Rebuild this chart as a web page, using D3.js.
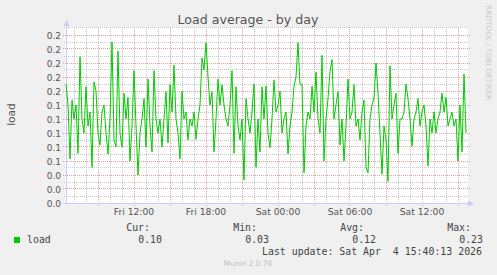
<!DOCTYPE html>
<html>
<head>
<meta charset="utf-8">
<script src="https://cdn.jsdelivr.net/npm/d3@7"></script>
<style>
  body { margin: 0; background: #f0f0f0; }
  svg { display: block; }
</style>
</head>
<body>
<div id="chart"></div>
<script>
// 10-minute samples, Fri 06:20 -> Sat 15:40
const loadValues = [
  0.17, 0.14, 0.063, 0.147, 0.12, 0.14, 0.071, 0.209, 0.12, 0.10,
  0.166, 0.11, 0.13, 0.051, 0.173, 0.16, 0.10, 0.083, 0.13, 0.14,
  0.10, 0.07, 0.12, 0.23, 0.09, 0.08, 0.217, 0.10, 0.08, 0.157,
  0.12, 0.151, 0.06, 0.11, 0.189, 0.11, 0.04, 0.10, 0.12, 0.149,
  0.08, 0.177, 0.11, 0.073, 0.189, 0.12, 0.10, 0.12, 0.08, 0.12,
  0.159, 0.086, 0.169, 0.13, 0.197, 0.12, 0.10, 0.063, 0.16, 0.12,
  0.13, 0.09, 0.12, 0.11, 0.13, 0.091, 0.12, 0.14, 0.207, 0.19,
  0.229, 0.18, 0.14, 0.159, 0.073, 0.12, 0.177, 0.14, 0.169, 0.14,
  0.12, 0.11, 0.14, 0.189, 0.071, 0.166, 0.11, 0.09, 0.12, 0.033,
  0.149, 0.12, 0.10, 0.13, 0.17, 0.051, 0.12, 0.073, 0.166, 0.12,
  0.167, 0.10, 0.079, 0.12, 0.176, 0.13, 0.14, 0.16, 0.10, 0.12,
  0.13, 0.07, 0.11, 0.13, 0.167, 0.18, 0.229, 0.17, 0.169, 0.043,
  0.11, 0.13, 0.12, 0.167, 0.13, 0.187, 0.12, 0.10, 0.211, 0.06,
  0.12, 0.149, 0.187, 0.205, 0.12, 0.14, 0.159, 0.083, 0.12, 0.06,
  0.11, 0.177, 0.12, 0.13, 0.169, 0.11, 0.12, 0.09, 0.13, 0.147,
  0.051, 0.043, 0.12, 0.14, 0.15, 0.20, 0.157, 0.10, 0.041, 0.11,
  0.09, 0.031, 0.196, 0.12, 0.14, 0.157, 0.071, 0.12, 0.12, 0.13,
  0.17, 0.149, 0.12, 0.081, 0.12, 0.13, 0.149, 0.11, 0.13, 0.14,
  0.11, 0.053, 0.12, 0.10, 0.13, 0.10, 0.12, 0.13, 0.157, 0.13,
  0.151, 0.11, 0.12, 0.13, 0.11, 0.12, 0.06, 0.14, 0.073, 0.184,
  0.10
];
const startTime = new Date(2026, 3, 3, 6, 20);
const endTime = new Date(2026, 3, 4, 15, 40);
const stepMinutes = 10;

const yTickValues = [0, 0.02, 0.04, 0.06, 0.08, 0.10, 0.12, 0.14, 0.16, 0.18, 0.20, 0.22, 0.24];
const yMinorValues = [0.01, 0.03, 0.05, 0.07, 0.09, 0.11, 0.13, 0.15, 0.17, 0.19, 0.21, 0.23, 0.25];

const statLabels = ["Cur:", "Min:", "Avg:", "Max:"];
const statValues = ["0.10", "0.03", "0.12", "0.23"];
const lastUpdate = "Last update: Sat Apr  4 15:40:13 2026";

const data = loadValues.map((v, i) => ({
    time: new Date(startTime.getTime() + i * stepMinutes * 60000),
    value: v
}));

const width = 497;
const height = 275;

const svg = d3.select("#chart").append("svg")
    .attr("width", width)
    .attr("height", height)
    .style("background", "#f0f0f0");

const x = d3.scaleTime().domain([startTime, endTime]).range([66, 466]);
const y = d3.scaleLinear().domain([0, 0.24]).range([203, 35]);
const crisp = v => Math.floor(v) + 0.5;

const sans = "'DejaVu Sans', sans-serif";
const mono = "'DejaVu Sans Mono', monospace";

// plot background
svg.append("rect")
    .attr("x", 65).attr("y", 27)
    .attr("width", 403).attr("height", 177)
    .attr("fill", "#fff");

// title
svg.append("text")
    .attr("x", 248).attr("y", 24)
    .attr("text-anchor", "middle")
    .attr("font-family", sans)
    .attr("font-size", "12.6px")
    .attr("fill", "#555")
    .text("Load average - by day");

// watermark
svg.append("text")
    .attr("transform", "translate(486,5) rotate(90)")
    .attr("font-family", sans)
    .attr("font-size", "7.4px")
    .attr("fill", "#c8c8c8")
    .text("RRDTOOL / TOBI OETIKER");

// grid: minor hours, major every 3h
const majorTimes = d3.timeHour.every(3).range(startTime, endTime);
const majorSet = new Set(majorTimes.map(t => +t));
const minorTimes = d3.timeHour.range(startTime, endTime).filter(t => !majorSet.has(+t));

const grid = svg.append("g").attr("stroke-width", 1).attr("stroke-dasharray", "1,1");

grid.selectAll(".vminor").data(minorTimes).join("line")
    .attr("x1", d => crisp(x(d))).attr("x2", d => crisp(x(d)))
    .attr("y1", 27).attr("y2", 205)
    .attr("stroke", "#c8c8c8");

grid.selectAll(".hminor").data(yMinorValues).join("line")
    .attr("x1", 64).attr("x2", 468)
    .attr("y1", d => crisp(y(d))).attr("y2", d => crisp(y(d)))
    .attr("stroke", "#c8c8c8");

grid.selectAll(".vmajor").data(majorTimes).join("line")
    .attr("x1", d => crisp(x(d))).attr("x2", d => crisp(x(d)))
    .attr("y1", 27).attr("y2", 207)
    .attr("stroke", "#e8a0a0");

grid.selectAll(".hmajor").data(yTickValues.slice(1)).join("line")
    .attr("x1", 63).attr("x2", 470)
    .attr("y1", d => crisp(y(d))).attr("y2", d => crisp(y(d)))
    .attr("stroke", "#e8a0a0");

// axes
const axisColor = "#c8ccf4";
svg.append("line")
    .attr("x1", crisp(x(startTime))).attr("x2", crisp(x(startTime)))
    .attr("y1", 204).attr("y2", 25)
    .attr("stroke", axisColor);
svg.append("path")
    .attr("d", `M${crisp(x(startTime)) - 3},26 L${crisp(x(startTime))},20 L${crisp(x(startTime)) + 3},26 Z`)
    .attr("fill", axisColor);
svg.append("line")
    .attr("x1", 63).attr("x2", 470)
    .attr("y1", crisp(y(0))).attr("y2", crisp(y(0)))
    .attr("stroke", axisColor);
svg.append("path")
    .attr("d", `M468,${crisp(y(0)) - 3} L474,${crisp(y(0))} L468,${crisp(y(0)) + 3} Z`)
    .attr("fill", axisColor);

// y tick labels
svg.append("g").selectAll("text").data(yTickValues).join("text")
    .attr("x", 61)
    .attr("y", d => y(d) + 3.5)
    .attr("text-anchor", "end")
    .attr("font-family", sans)
    .attr("font-size", "9px")
    .attr("fill", "#555")
    .text(d3.format(".1f"));

// x tick labels every 6 hours
const labelTimes = d3.timeHour.every(6).range(startTime, endTime);
svg.append("g").selectAll("text").data(labelTimes).join("text")
    .attr("x", d => x(d))
    .attr("y", 215)
    .attr("text-anchor", "middle")
    .attr("font-family", sans)
    .attr("font-size", "9.2px")
    .attr("fill", "#555")
    .text(d3.timeFormat("%a %H:%M"));

// y axis title
svg.append("text")
    .attr("transform", "translate(15,114.5) rotate(-90)")
    .attr("text-anchor", "middle")
    .attr("font-family", sans)
    .attr("font-size", "10.6px")
    .attr("fill", "#555")
    .text("load");

// load line
const line = d3.line()
    .x(d => x(d.time))
    .y(d => y(d.value));

svg.append("path")
    .datum(data)
    .attr("fill", "none")
    .attr("stroke", "#00cc00")
    .attr("stroke-width", 1)
    .attr("d", line);

// legend
svg.append("rect")
    .attr("x", 14).attr("y", 237)
    .attr("width", 6).attr("height", 6)
    .attr("fill", "#00cc00");

const legend = svg.append("g")
    .attr("font-family", mono)
    .attr("font-size", "9.9px")
    .attr("fill", "#444");

legend.append("text").attr("x", 27).attr("y", 243).text("load");

statLabels.forEach((label, i) => {
    legend.append("text")
        .attr("x", 150 + i * 107)
        .attr("y", 231)
        .attr("text-anchor", "end")
        .text(label);
    legend.append("text")
        .attr("x", 162 + i * 107)
        .attr("y", 243)
        .attr("text-anchor", "end")
        .text(statValues[i]);
});

legend.append("text")
    .attr("x", 482).attr("y", 255)
    .attr("text-anchor", "end")
    .style("white-space", "pre")
    .text(lastUpdate);

svg.append("text")
    .attr("x", 248).attr("y", 266)
    .attr("text-anchor", "middle")
    .attr("font-family", sans)
    .attr("font-size", "7.4px")
    .attr("fill", "#c0c0c0")
    .text("Munin 2.0.76");
</script>
</body>
</html>
